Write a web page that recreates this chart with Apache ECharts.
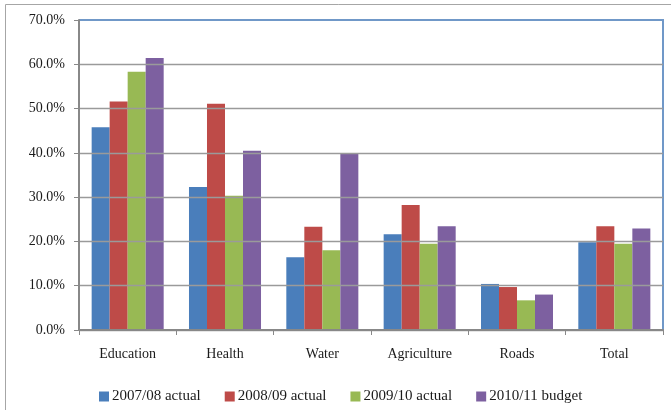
<!DOCTYPE html>
<html>
<head>
<meta charset="utf-8">
<script src="https://cdn.jsdelivr.net/npm/echarts@6/dist/echarts.min.js"></script>
<style>
  html, body { margin: 0; padding: 0; background: #ffffff; }
  #chart { width: 671px; height: 410px; }
</style>
</head>
<body>
<div id="chart"></div>
<script>
// Sector shares of spending, by year
const sectors = ['Education', 'Health', 'Water', 'Agriculture', 'Roads', 'Total'];
const seriesNames = ['2007/08 actual', '2008/09 actual', '2009/10 actual', '2010/11 budget'];
const actual0708 = [45.8, 32.3, 16.4, 21.6, 10.4, 19.8];
const actual0809 = [51.6, 51.1, 23.3, 28.2, 9.7, 23.4];
const actual0910 = [58.3, 30.3, 18.0, 19.5, 6.7, 19.5];
const budget1011 = [61.4, 40.5, 39.9, 23.4, 8.0, 22.9];
const yTicks = [0, 10, 20, 30, 40, 50, 60, 70];

const colors = ['#4a7ebb', '#be4b48', '#98b954', '#7d60a0'];
const values = [actual0708, actual0809, actual0910, budget1011];
const serif = '"Liberation Serif", "Times New Roman", serif';

const W = 671, H = 410;
const gridBox = { left: 79, right: 8, top: 20, bottom: 80 };
const plotRight = W - gridBox.right;
const plotBottom = H - gridBox.bottom;

const chart = echarts.init(document.getElementById('chart'), null, { renderer: 'canvas' });

chart.setOption({
  animation: false,
  backgroundColor: '#ffffff',
  color: colors,
  graphic: [{
    // outer frame of the figure
    type: 'rect',
    silent: true,
    z: -1,
    shape: { x: 5.5, y: 4.5, width: 720, height: 440 },
    style: { fill: 'none', stroke: '#a6a6a6', lineWidth: 1 }
  }, {
    // blue frame on the top and right edges of the plot area
    type: 'polyline',
    silent: true,
    z: 0,
    shape: { points: [[gridBox.left, gridBox.top], [plotRight, gridBox.top], [plotRight, plotBottom]] },
    style: { fill: 'none', stroke: '#7098c8', lineWidth: 2 }
  }],
  grid: Object.assign({ containLabel: false }, gridBox),
  legend: {
    data: seriesNames,
    left: 94,
    top: 384,
    icon: 'rect',
    itemWidth: 10,
    itemHeight: 10,
    itemGap: 24,
    textStyle: { fontFamily: serif, fontSize: 15, color: '#1a1a1a', padding: [0, 0, 0, -2] }
  },
  xAxis: {
    type: 'category',
    data: sectors,
    z: 10,
    axisLine: { show: true, onZero: false, lineStyle: { color: '#888888', width: 2 } },
    axisTick: { show: true, length: 5, lineStyle: { color: '#888888', width: 1 } },
    axisLabel: { fontFamily: serif, fontSize: 14, color: '#1a1a1a', margin: 17 },
    splitLine: { show: false }
  },
  yAxis: {
    type: 'value',
    z: 10,
    min: yTicks[0],
    max: yTicks[yTicks.length - 1],
    interval: 10,
    axisLine: { show: true, lineStyle: { color: '#888888', width: 2 } },
    axisTick: { show: true, length: 5, lineStyle: { color: '#888888', width: 1 } },
    axisLabel: {
      fontFamily: serif, fontSize: 14, color: '#1a1a1a', margin: 14,
      formatter: v => v.toFixed(1) + '%'
    },
    splitLine: { show: true, showMaxLine: false, lineStyle: { color: '#9a9a9a', width: 1.3 } }
  },
  series: seriesNames.map((name, i) => ({
    name: name,
    type: 'bar',
    z: 2,
    data: values[i],
    barGap: '0%',
    barCategoryGap: '26%',
    itemStyle: { color: colors[i] }
  }))
});
</script>
</body>
</html>
